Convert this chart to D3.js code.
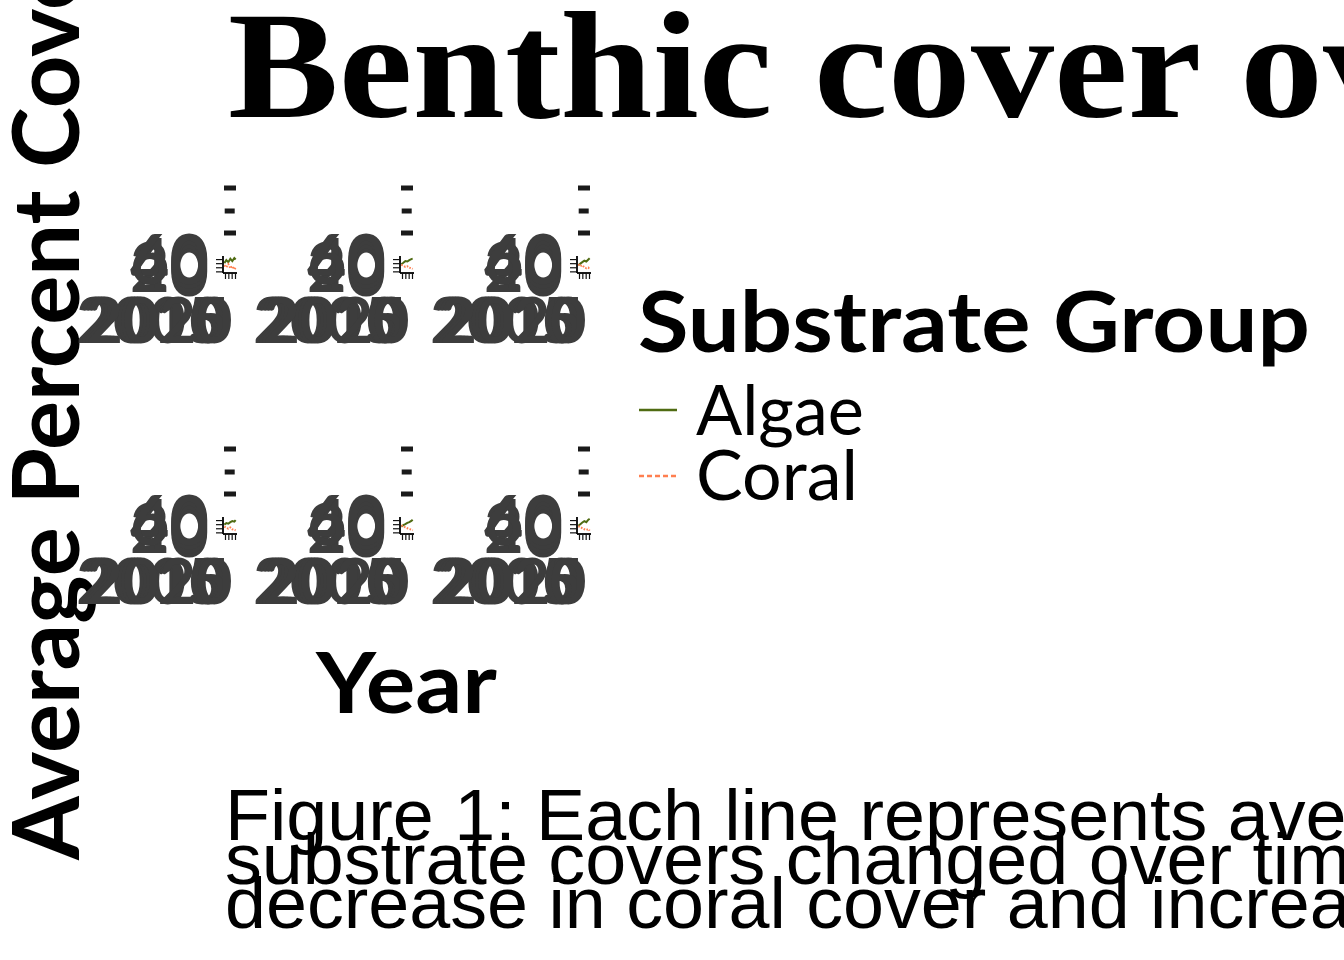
<!DOCTYPE html>
<html><head><meta charset="utf-8">
<script src="https://cdn.jsdelivr.net/npm/d3@7"></script>
<style>html,body{margin:0;padding:0;background:#fff;overflow:hidden}</style>
</head><body><svg id="c" width="1344" height="960"></svg>
<script>
// ---------- data ----------
const sites = ["Site 1", "Site 2", "Site 3", "Site 4", "Site 5", "Site 6"];
const years = [2004, 2007, 2010, 2013, 2016, 2019, 2021];
const algaeCover = [
  [40, 55, 45, 62, 50, 65, 58],
  [35, 42, 50, 48, 55, 60, 62],
  [30, 38, 45, 52, 48, 58, 64],
  [38, 45, 42, 50, 55, 52, 60],
  [28, 35, 40, 46, 50, 56, 62],
  [32, 40, 48, 55, 50, 62, 66]
];
const coralCover = [
  [30, 20, 35, 15, 25, 10, 18],
  [32, 28, 22, 25, 18, 15, 12],
  [35, 25, 30, 20, 15, 18, 10],
  [28, 22, 18, 24, 15, 12, 10],
  [34, 30, 24, 20, 16, 14, 10],
  [30, 26, 20, 15, 12, 16, 8]
];
const yTicks = [0, 20, 40, 60];
const xTicks = [2005, 2010, 2015, 2020];
const groups = ["Algae", "Coral"];
const titleText = "Benthic cover over time at six reef sites";
const yTitle = "Average Percent Cover (%)";
const xTitle = "Year";
const legendTitle = "Substrate Group";
const captionLines = [
  "Figure 1: Each line represents average percent cover of the two main",
  "substrate covers changed over time at each site, showing a general",
  "decrease in coral cover and increase in algae cover across sites."
];

// ---------- styles ----------
const colors = { Algae: "#4f6b12", Coral: "#ff7f50" };
const dashes = { Algae: null, Coral: "1.6,1.4" };
const legendDash = { Algae: null, Coral: "5,3" };
const sans = "Lato, 'Source Sans Pro', 'Noto Sans', sans-serif";
const axisGrey = "#3d3d3d";

const svg = d3.select("#c");

function fitX(sel, prefixLen, target, x, y, rot) {
  const node = sel.node();
  const n = prefixLen == null ? node.getNumberOfChars() : prefixLen;
  const w = node.getSubStringLength(0, n);
  const s = target / w;
  sel.attr("x", 0).attr("y", 0)
     .attr("transform", `translate(${x},${y})` + (rot ? ` rotate(${rot})` : "") + ` scale(${s},1)`);
  return s;
}

// ---------- title ----------
const t = svg.append("text").text(titleText)
  .attr("font-family", "'Liberation Serif', 'DejaVu Serif', serif")
  .attr("font-weight", "bold").attr("font-size", 152).attr("fill", "#000");
fitX(t, "Benthic cover ".length, 1012, 228, 117);

// ---------- y title ----------
const yt = svg.append("text").text(yTitle)
  .attr("font-family", sans).attr("font-weight", "bold")
  .attr("font-size", 91).attr("fill", "#000");
fitX(yt, "Average Percent ".length, 692, 79, 860, -90);

// ---------- facets ----------
const colX = [223, 400, 577];
const rowY = [256, 517];
const pw = 14, ph = 17;

sites.forEach((site, i) => {
  const c = i % 3, r = Math.floor(i / 3);
  const px = colX[c], py = rowY[r];
  const x = d3.scaleLinear().domain([2002, 2023]).range([px, px + pw]);
  const y = d3.scaleLinear().domain([-8, 75]).range([py + ph, py]);
  const g = svg.append("g").attr("class", "panel");

  // strip (collapsed label marks)
  const strip = g.append("g").attr("class", "strip");
  [[-68, 12, 1], [-45, 10, 1.7], [-23, 12, 1]].forEach(([dy, w, dx]) => {
    strip.append("rect").attr("x", px + dx).attr("y", py + dy - 2.5)
      .attr("width", w).attr("height", 5).attr("fill", "#1a1a1a");
  });

  // lines
  const line = d3.line().x((d, k) => x(years[k])).y(d => y(d));
  const gp = g.append("g");
  [["Algae", algaeCover[i]], ["Coral", coralCover[i]]].forEach(([grp, vals]) => {
    gp.append("path").datum(vals).attr("d", line)
      .attr("fill", "none").attr("stroke", colors[grp]).attr("stroke-width", 2)
      .attr("stroke-dasharray", dashes[grp]);
  });

  // axes
  const ya = g.append("g").attr("transform", `translate(${px},0)`)
    .call(d3.axisLeft(y).tickValues(yTicks).tickSize(7).tickPadding(7));
  ya.select(".domain").attr("stroke", "#000").attr("stroke-width", 1.8)
    .attr("d", `M0,${py}V${py + ph}`);
  ya.selectAll(".tick line").attr("stroke", "#111").attr("stroke-width", 1.2);
  ya.selectAll(".tick text").attr("font-family", sans).attr("font-weight", "bold")
    .attr("font-size", 68).attr("fill", axisGrey).attr("dy", "0.36em");

  const xa = g.append("g").attr("transform", `translate(0,${py + ph})`)
    .call(d3.axisBottom(x).tickValues(xTicks).tickFormat(d3.format("d")).tickSize(6).tickPadding(4));
  xa.select(".domain").attr("stroke", "#000").attr("stroke-width", 1.8)
    .attr("d", `M${px},0H${px + pw}`);
  xa.selectAll(".tick line").attr("stroke", "#111").attr("stroke-width", 1.2);
  xa.selectAll(".tick text").attr("font-family", sans).attr("font-weight", "bold")
    .attr("font-size", 63).attr("fill", axisGrey)
    .attr("text-anchor", "end").attr("x", -3).attr("y", 0).attr("dy", 70);
});

// ---------- x title ----------
const xtEl = svg.append("text").text(xTitle)
  .attr("font-family", sans).attr("font-weight", "bold")
  .attr("font-size", 85).attr("fill", "#000");
fitX(xtEl, null, 181, 316, 713);

// ---------- legend ----------
const lt = svg.append("text").text(legendTitle)
  .attr("font-family", sans).attr("font-weight", "bold")
  .attr("font-size", 84).attr("fill", "#000");
fitX(lt, null, 672, 638, 352);

const legY = [410, 476];
const labY = [435, 500];
const labW = [168, 162];
groups.forEach((grp, k) => {
  svg.append("line").attr("x1", 639).attr("x2", 677)
    .attr("y1", legY[k]).attr("y2", legY[k])
    .attr("stroke", colors[grp]).attr("stroke-width", 2.4)
    .attr("stroke-dasharray", legendDash[grp]);
  const tx = svg.append("text").text(grp)
    .attr("font-family", sans).attr("font-size", 69).attr("fill", "#000");
  fitX(tx, null, labW[k], 696, labY[k]);
});

// ---------- caption ----------
const capBase = [840, 884, 928];
let capScale = 1;
captionLines.forEach((ln, k) => {
  const ct = svg.append("text").text(ln)
    .attr("font-family", "'Liberation Sans Narrow', 'Liberation Sans', Arial, sans-serif")
    .attr("font-size", 73).attr("fill", "#000");
  if (k === 0) {
    capScale = fitX(ct, "Figure 1: Each line represents ".length, 1003, 225, capBase[k]);
  } else {
    ct.attr("x", 0).attr("y", 0)
      .attr("transform", `translate(225,${capBase[k]}) scale(${capScale},1)`);
  }
});
</script>
</body></html>
